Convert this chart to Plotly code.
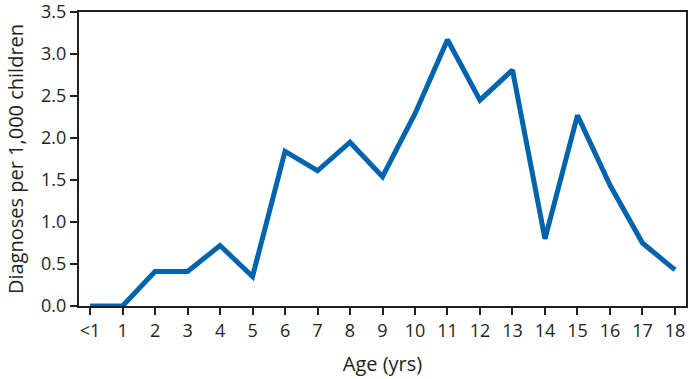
import plotly.graph_objects as go

ages = ["<1", "1", "2", "3", "4", "5", "6", "7", "8", "9", "10", "11", "12", "13", "14", "15", "16", "17", "18"]
rates = [0, 0, 0.41, 0.41, 0.72, 0.35, 1.84, 1.61, 1.95, 1.54, 2.29, 3.17, 2.45, 2.81, 0.80, 2.27, 1.44, 0.75, 0.43]

font_family = "Open Sans, Liberation Sans, sans-serif"
txt = "#231f20"

fig = go.Figure(go.Scatter(
    x=ages, y=rates, mode="lines",
    line=dict(color="#0063ad", width=5),
    hoverinfo="skip"
))

fig.update_layout(
    width=689, height=379,
    margin=dict(l=79, r=3, t=12, b=73, autoexpand=False),
    plot_bgcolor="white", paper_bgcolor="white",
    showlegend=False,
    font=dict(family=font_family, color=txt, size=18),
)
fig.update_xaxes(
    type="category", range=[-0.34, 18.34],
    showline=True, linecolor=txt, linewidth=2, mirror=True,
    ticks="outside", ticklen=7, tickwidth=1.5, tickcolor=txt,
    showgrid=False, zeroline=False, ticklabeloverflow="allow",
    tickfont=dict(size=18),
    title=dict(text="Age (yrs)", font=dict(size=20), standoff=16),
)
fig.update_yaxes(
    range=[0, 3.5], dtick=0.5, tickformat=".1f",
    showline=True, linecolor=txt, linewidth=2, mirror=True,
    ticks="outside", ticklen=7, tickwidth=1.5, tickcolor=txt,
    showgrid=False, zeroline=False, ticklabeloverflow="allow",
    tickfont=dict(size=18),
    title=dict(text="Diagnoses per 1,000 children", font=dict(size=20), standoff=12),
)

fig.write_html("out.html", config={"displayModeBar": False},
               post_script="document.body.style.margin='0';document.body.style.overflow='hidden';")
